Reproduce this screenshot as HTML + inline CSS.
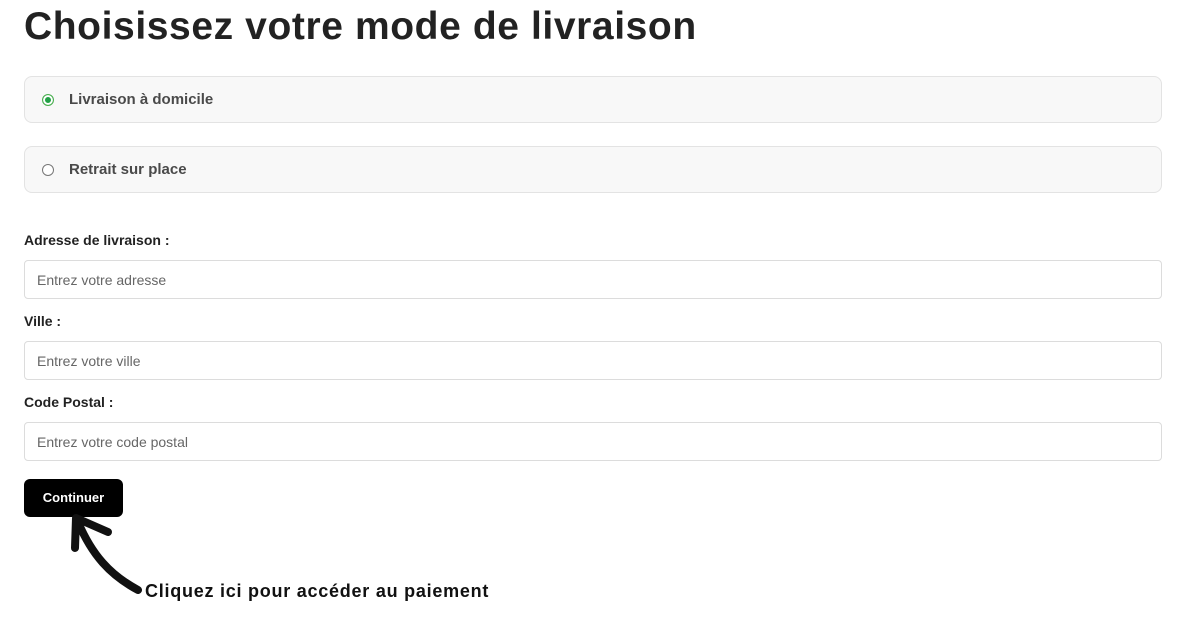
<!DOCTYPE html>
<html><head><meta charset="utf-8"><style>
body{margin:0;width:1189px;height:623px;background:#fff;position:relative;overflow:hidden;font-family:"Liberation Sans",sans-serif}
.a{position:absolute}
h1{position:absolute;left:24px;top:5px;margin:0;font-size:39px;font-weight:bold;color:#222;letter-spacing:0.6px}
.opt{position:absolute;left:24px;width:1136px;height:45px;background:#f8f8f8;border:1px solid #e3e3e3;border-radius:8px}
.opt span{position:absolute;left:44px;top:14px;font-size:15px;font-weight:bold;color:#4a4a4a}
.rad{position:absolute;left:17px;top:17px;width:10px;height:10px;border-radius:50%;border:1px solid #777;background:#fff}
.lbl{position:absolute;left:24px;font-size:14px;font-weight:bold;color:#222}
.inp{position:absolute;left:24px;width:1136px;height:37px;border:1px solid #dcdcdc;border-radius:4px;background:#fff}
.inp span{position:absolute;left:12px;top:11px;font-size:14px;color:#666}
</style></head><body>
<h1>Choisissez votre mode de livraison</h1>
<div class="opt" style="top:76px"><div class="rad" style="border-color:#4caf50;box-shadow:inset 0 0 0 2px #fff;background:#22a045"></div><span>Livraison à domicile</span></div>
<div class="opt" style="top:146px"><div class="rad"></div><span>Retrait sur place</span></div>
<div class="lbl" style="top:232px">Adresse de livraison :</div>
<div class="inp" style="top:260px"><span>Entrez votre adresse</span></div>
<div class="lbl" style="top:313px">Ville :</div>
<div class="inp" style="top:341px"><span>Entrez votre ville</span></div>
<div class="lbl" style="top:394px">Code Postal :</div>
<div class="inp" style="top:422px"><span>Entrez votre code postal</span></div>
<div class="a" style="left:24px;top:479px;width:99px;height:38px;background:#000;border-radius:6px;color:#fff;font-size:13px;font-weight:bold;text-align:center;line-height:38px">Continuer</div>
<svg class="a" style="left:0;top:0" width="200" height="623">
<path d="M138 590 C110 575 92 555 78 522" stroke="#111" stroke-width="8" fill="none" stroke-linecap="round"/>
<path d="M75 548 L76 518 L108 532" stroke="#111" stroke-width="8" fill="none" stroke-linecap="round" stroke-linejoin="round"/>
</svg>
<div class="a" style="left:145px;top:581px;font-size:18px;font-weight:bold;color:#111;letter-spacing:0.75px">Cliquez ici pour accéder au paiement</div>
</body></html>
